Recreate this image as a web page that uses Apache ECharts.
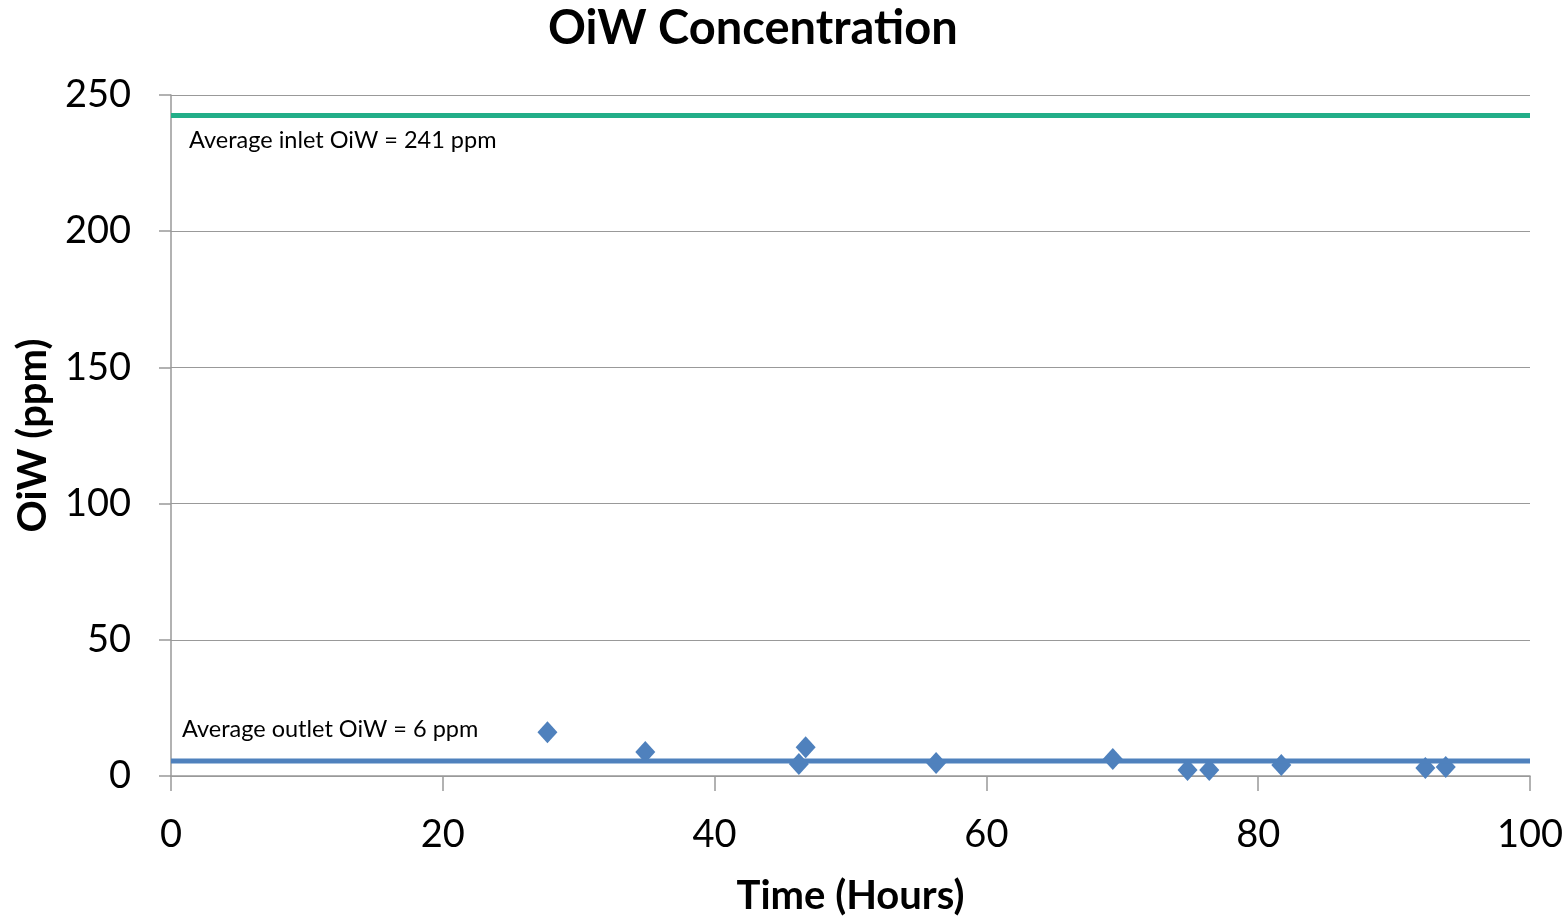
<!DOCTYPE html>
<html><head><meta charset="utf-8">
<script src="https://cdn.jsdelivr.net/npm/echarts@6/dist/echarts.min.js"></script>
<style>html,body{margin:0;padding:0;background:#fff;overflow:hidden;width:1567px;height:921px}#c{width:1567px;height:921px;overflow:hidden}</style>
</head><body><div id="c"></div>
<script>
const timeHours = [27.7, 34.9, 46.2, 46.7, 56.3, 69.3, 74.8, 76.4, 81.7, 92.3, 93.8];
const outletOiW = [16.1, 8.8, 4.4, 10.6, 4.8, 6.2, 2.2, 2.2, 4.0, 2.9, 3.3];
const inletAvg = 242.5;
const outletAvg = 5.5;
const xRange = [0, 100];
const inletLabel = 'Average inlet OiW = 241 ppm';
const outletLabel = 'Average outlet OiW = 6 ppm';

const font = 'Lato, "Open Sans", sans-serif';
const chart = echarts.init(document.getElementById('c'));
chart.setOption({
  animation: false,
  title: {text: 'OiW Concentration', left: 543, top: 0,
    textStyle: {fontFamily: font, fontSize: 47, fontWeight: 'bold', color: '#000'}},
  grid: {left: 171, right: 37, top: 95, bottom: 144},
  xAxis: {type: 'value', min: 0, max: 100, interval: 20,
    name: 'Time (Hours)', nameLocation: 'middle', nameGap: 100,
    nameTextStyle: {fontFamily: font, fontSize: 40, fontWeight: 'bold', color: '#000'},
    axisLine: {lineStyle: {color: '#999', width: 1.5}},
    axisTick: {show: true, length: 15, lineStyle: {color: '#999', width: 1.5}},
    axisLabel: {fontFamily: font, fontSize: 38, color: '#000', margin: 40},
    splitLine: {show: false}},
  yAxis: {type: 'value', min: 0, max: 250, interval: 50,
    name: 'OiW (ppm)', nameLocation: 'middle', nameGap: 118,
    nameTextStyle: {fontFamily: font, fontSize: 40, fontWeight: 'bold', color: '#000'},
    axisLine: {show: true, lineStyle: {color: '#999', width: 1.5}},
    axisTick: {show: true, length: 12, lineStyle: {color: '#999', width: 1.5}},
    axisLabel: {fontFamily: font, fontSize: 38, color: '#000', margin: 40},
    splitLine: {lineStyle: {color: '#999', width: 1.2}}},
  series: [
    {type: 'line', data: [[xRange[0], inletAvg], [xRange[1], inletAvg]], symbol: 'none',
      lineStyle: {color: '#22AE88', width: 5}},
    {type: 'line', data: [[xRange[0], outletAvg], [xRange[1], outletAvg]], symbol: 'none',
      lineStyle: {color: '#4F81BD', width: 5}},
    {type: 'scatter', data: timeHours.map((t, i) => [t, outletOiW[i]]),
      symbol: 'diamond', symbolSize: [20, 22],
      itemStyle: {color: '#4F81BD', opacity: 1}}
  ],
  graphic: [
    {type: 'text', left: 189, top: 128, style: {text: inletLabel, font: '23.5px ' + font, fill: '#000'}},
    {type: 'text', left: 182, top: 717, style: {text: outletLabel, font: '23.5px ' + font, fill: '#000'}}
  ]
});
</script></body></html>
